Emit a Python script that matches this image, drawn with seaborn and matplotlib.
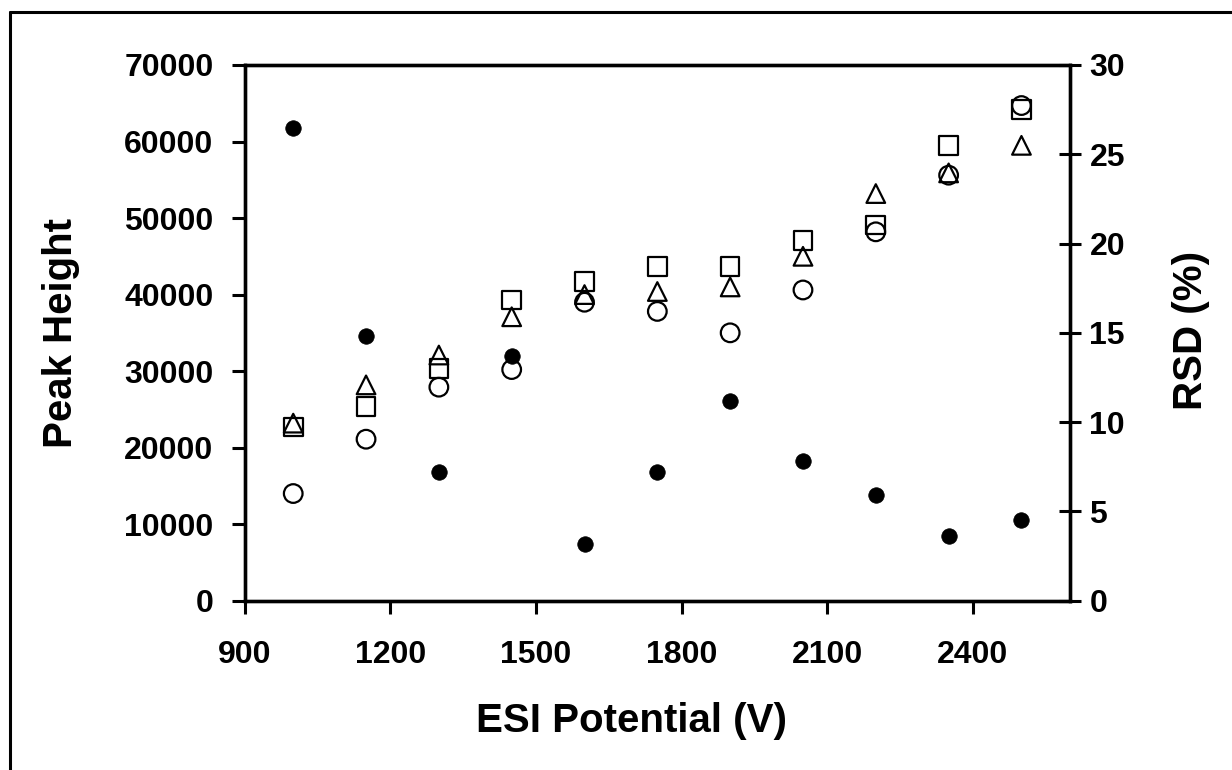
import matplotlib
matplotlib.use("Agg")
import matplotlib.pyplot as plt
from matplotlib.lines import Line2D
import seaborn as sns
import pandas as pd

# ESI potential (V)
esi_potential = [1000, 1150, 1300, 1450, 1600, 1750, 1900, 2050, 2200, 2350, 2500]

# peak heights (left axis), three open-marker series
peak_circle = [14000, 21100, 27900, 30200, 39000, 37800, 35000, 40600, 48200, 55600, 64700]
peak_square = [22700, 25400, 30300, 39300, 41700, 43700, 43700, 47100, 49100, 59500, 64200]
peak_triangle = [23200, 28200, 32100, 37100, 40000, 40400, 41000, 45000, 53200, 55900, 59500]

# RSD (%) (right axis), filled circles
rsd = [26.45, 14.8, 7.2, 13.7, 3.2, 7.2, 11.2, 7.85, 5.9, 3.65, 4.5]

x_ticks = [900, 1200, 1500, 1800, 2100, 2400]
left_ticks = [0, 10000, 20000, 30000, 40000, 50000, 60000, 70000]
right_ticks = [0, 5, 10, 15, 20, 25, 30]

sns.set_theme(style="ticks")
plt.rcParams["font.family"] = ["Liberation Sans", "DejaVu Sans"]
plt.rcParams["font.weight"] = "bold"
plt.rcParams["axes.labelweight"] = "bold"
plt.rcParams["text.color"] = "black"
plt.rcParams["axes.labelcolor"] = "black"

df = pd.DataFrame({
    "esi": esi_potential,
    "circle": peak_circle,
    "square": peak_square,
    "triangle": peak_triangle,
    "rsd": rsd,
})

fig = plt.figure(figsize=(12.32, 7.70), dpi=100)
ax = fig.add_axes([0.1986, 0.2199, 0.6699, 0.6957])

open_kws = dict(s=180, facecolors="none", edgecolor="black", linewidth=1.6, zorder=3)
sns.scatterplot(data=df, x="esi", y="circle", marker="o", ax=ax, **open_kws)
sns.scatterplot(data=df, x="esi", y="square", marker="s", ax=ax, **open_kws)
sns.scatterplot(data=df, x="esi", y="triangle", marker="^", ax=ax, **open_kws)

ax.set_xlim(900, 2600)
ax.set_ylim(0, 70000)
ax.set_xticks(x_ticks)
ax.set_yticks(left_ticks)
ax.set_xticklabels([str(t) for t in x_ticks])
ax.set_yticklabels([str(t) for t in left_ticks])

ax2 = ax.twinx()
sns.scatterplot(data=df, x="esi", y="rsd", marker="o", s=125, color="black",
                edgecolor="black", linewidth=0.5, ax=ax2, zorder=4)
ax2.set_ylim(0, 30)
ax2.set_yticks(right_ticks)
ax2.set_yticklabels([str(t) for t in right_ticks])

for a in (ax, ax2):
    for sp in a.spines.values():
        sp.set_linewidth(2.4)
        sp.set_color("black")
        sp.set_visible(True)

ax.tick_params(axis="y", direction="out", length=9.5, width=2.2, pad=13, labelsize=23, colors="black")
ax.tick_params(axis="x", direction="out", length=9, width=2.2, pad=19, labelsize=23, colors="black")
ax2.tick_params(axis="y", direction="inout", length=16, width=2.2, pad=6, labelsize=23, colors="black")

ax.set_xlabel("ESI Potential (V)", fontsize=29, fontweight="bold", color="black")
ax.set_ylabel("Peak Height", fontsize=29, fontweight="bold", color="black")
ax2.set_ylabel("RSD (%)", fontsize=29, fontweight="bold", color="black")
ax.xaxis.set_label_coords(0.469, -0.19)
ax.yaxis.set_label_coords(-0.2, 0.5)
ax2.yaxis.set_label_coords(1.124, 0.505)

# outer border lines (left and top only, as in the original)
fig.add_artist(Line2D([10 / 1232, 10 / 1232], [0, 1 - 12 / 770], transform=fig.transFigure,
                      color="black", linewidth=2.2))
fig.add_artist(Line2D([10 / 1232, 1], [1 - 12 / 770, 1 - 12 / 770], transform=fig.transFigure,
                      color="black", linewidth=2.2))

fig.savefig("out.png", dpi=100, facecolor="white")
